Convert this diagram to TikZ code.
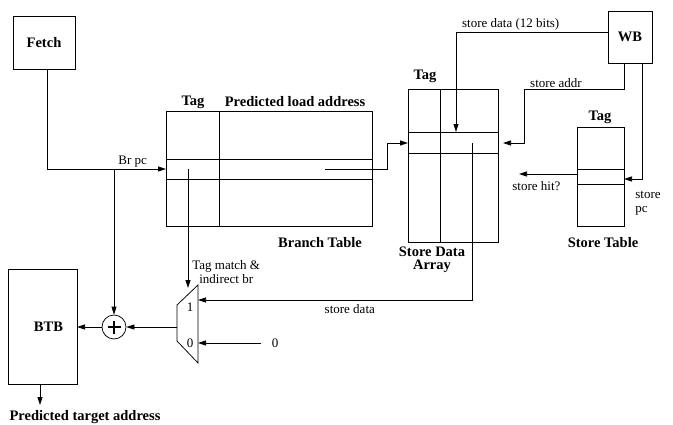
\documentclass[tikz,border=0pt]{standalone}
\usepackage{fontspec}
\setmainfont{Liberation Serif}
\usetikzlibrary{positioning, arrows.meta, calc}

\begin{document}
\begin{tikzpicture}[x=1pt, y=-1pt, line width=0.75pt,
  box/.style={draw, inner sep=0pt, outer sep=0pt, font=\fontsize{14.5}{15}\selectfont\bfseries},
  head/.style={font=\fontsize{14.5}{15}\selectfont\bfseries, align=center},
  lbl/.style={font=\fontsize{13}{14}\selectfont, inner sep=1pt},
  arr/.style={-{Triangle[length=8pt, width=5pt]}},
]
  \useasboundingbox (0,0) rectangle (673,424);

  % blocks
  \node[box, minimum width=62, minimum height=53] (fetch) at (44,42.5) {Fetch};
  \node[box, minimum width=44, minimum height=52] (wb) at (630,37) {WB};
  \node[box, minimum width=69, minimum height=115] (btb) at (42.5,326.5) {\hspace*{12pt}BTB};
  \node[box, minimum width=206, minimum height=115] (btab) at (269,168.5) {};
  \node[box, minimum width=90, minimum height=153] (sda) at (453,165.5) {};
  \node[box, minimum width=47, minimum height=99] (stab) at (600.5,176.5) {};
  \node[draw, circle, minimum size=24, inner sep=0pt,
        path picture={\draw[line width=1.3pt] ($(path picture bounding box.center)+(-6.5,0)$) -- ++(13,0)
                        ($(path picture bounding box.center)+(0,-6.5)$) -- ++(0,13);}] (plus) at (114,327) {};

  % table lines
  \draw ($(btab.north west)+(53,0)$) -- ($(btab.south west)+(53,0)$);
  \draw (btab.west |- 0,159) -- (btab.east |- 0,159);
  \draw (btab.west |- 0,179) -- (btab.east |- 0,179);
  \draw ($(sda.north west)+(32,0)$) -- ($(sda.south west)+(32,0)$);
  \draw (sda.west |- 0,132) -- (sda.east |- 0,132);
  \draw (sda.west |- 0,153) -- (sda.east |- 0,153);
  \draw (stab.west |- 0,169) -- (stab.east |- 0,169);
  \draw (stab.west |- 0,184) -- (stab.east |- 0,184);

  % mux
  \draw (177,305) -- (198,285) -- (198,363) -- (177,341) -- cycle;
  \coordinate (mux1) at (198,300);
  \coordinate (mux0) at (198,343);
  \coordinate (muxout) at (177,327);
  \coordinate (muxsel) at (188,288);

  % headings
  \node[head] (btag) at (193,102) {Tag};
  \node[head] (bpla) at (295,102) {Predicted load address};
  \node[head] (stag) at (425,76) {Tag};
  \node[head] (ttag) at (600,117) {Tag};
  \node[head] (bname) at (320,243) {Branch Table};
  \node[head, font=\fontsize{14.5}{13}\selectfont\bfseries] (sname) at (432,260) {Store Data\\Array};
  \node[head] (tname) at (603,243) {Store Table};
  \node[head] (target) at (85,417) {Predicted target address};
  \node[lbl] (zero) at (275,343) {0};
  \node[lbl] (one) at (190,307) {1};
  \node[lbl] (zerol) at (190,343) {0};

  % connectors
  \coordinate (split) at (114,169);
  \coordinate (sel) at (188,169);
  \coordinate (pred) at (325,169);
  \coordinate (sdout) at (472,143);
  \draw[arr] (fetch.south -| 47,0) |- node[lbl, pos=0.86, above] {Br pc} (btab.west |- split);
  \draw[arr] (split) -- (plus.north);
  \draw[arr] (sel) -- node[lbl, pos=0.87, right=3pt, align=center, font=\fontsize{13}{14}\selectfont] {Tag match \&\\indirect br} (muxsel);
  \draw[arr] (pred) -| (387,143) -- (sda.west |- sdout);
  \draw[arr] (sdout) |- node[lbl, pos=0.723, below=3pt] {store data} (mux1);
  \draw[arr, shorten <=9pt] (zero.west) -- (mux0);
  \draw[arr] (muxout) -- (plus.east);
  \draw[arr] (plus.west) -- (btb.east |- plus);
  \draw[arr] (btb.south -| 40,0) -- (40,405);
  \draw[arr] (wb.west |- 0,32) -| node[lbl, pos=0.32, above] {store data (12 bits)} (456,132);
  \draw[arr] (wb.south -| 624,0) |- node[lbl, pos=0.84, above] {store addr} (524,89) -- (524,143) -- (503,143);
  \draw[arr] (wb.south -| 642,0) |- (stab.east |- 0,179);
  \node[lbl, align=left] (spc) at (648,203) {store\\pc};
  \draw[arr] (stab.west |- 0,174) -- node[lbl, pos=0.7, below=6pt] {store hit?} (519,174);
\end{tikzpicture}
\end{document}
